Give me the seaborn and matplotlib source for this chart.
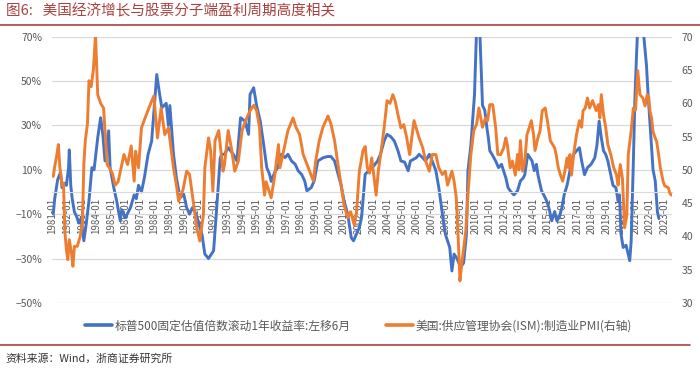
import matplotlib
matplotlib.use("Agg")
import seaborn as sns
import matplotlib.pyplot as plt
from matplotlib.lines import Line2D
from matplotlib.ticker import PercentFormatter

# 标普500 滚动1年收益率（左移6月），时间用小数年表示，数值单位 %
SPX_T = [1981.05, 1981.15, 1981.35, 1981.55, 1981.65, 1981.8, 1981.95, 1982.1, 1982.15, 1982.25,
         1982.35, 1982.5, 1982.65, 1982.8, 1982.95, 1983.15, 1983.3, 1983.5, 1983.7, 1983.85,
         1984.1, 1984.3, 1984.45, 1984.6, 1984.85, 1984.95, 1985.2, 1985.4, 1985.65, 1985.75,
         1986.0, 1986.35, 1986.6, 1986.75, 1986.9, 1987.1, 1987.3, 1987.55, 1987.8, 1988.15,
         1988.35, 1988.5, 1988.8, 1988.95, 1989.05, 1989.3, 1989.5, 1989.75, 1990.0, 1990.2,
         1990.4, 1990.6, 1990.85, 1991.25, 1991.45, 1991.7, 1992.05, 1992.25, 1992.5, 1992.6,
         1992.8, 1993.05, 1993.4, 1993.65, 1993.9, 1994.2, 1994.45, 1994.55, 1994.8, 1995.0,
         1995.25, 1995.45, 1995.7, 1995.9, 1996.0, 1996.25, 1996.45, 1996.7, 1996.95, 1997.15,
         1997.4, 1997.65, 1997.85, 1998.1, 1998.3, 1998.45, 1998.75, 1998.95, 1999.2, 1999.55,
         1999.85, 2000.1, 2000.35, 2000.6, 2000.8, 2001.0, 2001.25, 2001.5, 2001.65, 2001.85,
         2002.05, 2002.2, 2002.45, 2002.7, 2002.95, 2003.3, 2003.5, 2003.75, 2003.95, 2004.2,
         2004.45, 2004.7, 2004.9, 2005.15, 2005.4, 2005.55, 2005.95, 2006.15, 2006.4, 2006.6,
         2006.85, 2007.05, 2007.3, 2007.5, 2007.75, 2007.95, 2008.25, 2008.4, 2008.55, 2008.75,
         2009.0, 2009.2, 2009.4, 2009.5, 2009.7, 2009.95, 2010.1, 2010.3, 2010.5, 2010.65,
         2010.8, 2010.9, 2011.0, 2011.15, 2011.4, 2011.6, 2011.8, 2012.1, 2012.25, 2012.4,
         2012.65, 2012.9, 2013.1, 2013.3, 2013.4, 2013.6, 2013.75, 2013.9, 2014.05, 2014.2,
         2014.3, 2014.55, 2014.7, 2014.9, 2015.05, 2015.25, 2015.45, 2015.6, 2015.75, 2015.95,
         2016.1, 2016.3, 2016.5, 2016.75, 2016.95, 2017.15, 2017.3, 2017.5, 2017.7, 2017.95,
         2018.2, 2018.35, 2018.5, 2018.65, 2018.8, 2018.95, 2019.1, 2019.3, 2019.45, 2019.65,
         2019.8, 2019.9, 2020.0, 2020.15, 2020.35, 2020.6, 2020.7, 2020.85, 2020.95, 2021.05,
         2021.15, 2021.5, 2021.75, 2021.85, 2022.0, 2022.1, 2022.2, 2022.35, 2022.5, 2022.6]
SPX_V = [-10, -3, 5.5, 9, 2, 4, 3, 11, 19, 3,
         -3, -9, -11, -14, -12, -22, -15, -4, 11, 10,
         24.5, 33.5, 26, 14, 27.6, 11, 2, -4, -13, -8,
         -11.6, -7, -1.3, -3, 3, 0, 6.4, 16.8, 23, 53,
         44, 38, 40, 30, 39, 17, 6.4, -2.6, -1, -7,
         -10, -7, -10, -19, -28, -30, -26.5, -8.5, 15, 17,
         17, 20, 17, 14, 33.5, 32, 26, 44, 47, 39,
         32, 23, 11, 7.8, 4.8, 9, 11, 17, 15.5, 17,
         14, 12.5, 9.6, 7.8, 5, 0.5, 2, 5, 14, 15.4,
         16, 16, 14, 7.8, 3, -4, -10, -20.7, -22, -19,
         -16, -11.6, 8, 9.6, 11, 14, 17, 23, 26, 25,
         23, 18.6, 14, 13.5, 9.6, 14, 15.4, 17, 15.4, 14,
         17, 14, 9.6, 2, -10, -19, -25, -35.6, -28, -30,
         -34, -32, -19, 9.6, 21, 44, 75, 75, 39, 37,
         29, 24.5, 18.6, 17, 14, 11, 12.5, 6.4, 2, 0.5,
         -1.3, 0.5, 5, 6.4, 7.8, 17, 15.5, 14, 9.6, 12.5,
         7.8, 0.5, -1.3, -4, -7, -13, -8.8, -13, -11.6, -7,
         -1.3, 3, 9.6, 17, 18.6, 20, 14, 7.8, 11, 12.5,
         15.4, 21, 32, 24.5, 18.6, 17, 14, 7.8, 3, 2,
         -4, -1.3, -19, -25, -24, -31, -22, 14, 41, 59,
         75, 75, 57, 45, 30, 20, 10, 5, -9, -12]

# 美国 ISM 制造业 PMI（右轴）
PMI_T = [1981.05, 1981.15, 1981.3, 1981.4, 1981.5, 1981.65, 1981.75, 1981.85, 1981.95, 1982.05,
         1982.15, 1982.3, 1982.4, 1982.5, 1982.7, 1982.9, 1983.05, 1983.15, 1983.25, 1983.4,
         1983.5, 1983.65, 1983.8, 1983.95, 1984.1, 1984.3, 1984.5, 1984.75, 1984.9, 1985.1,
         1985.3, 1985.5, 1985.9, 1986.15, 1986.4, 1986.6, 1986.7, 1986.9, 1987.1, 1987.35,
         1987.7, 1987.95, 1988.2, 1988.45, 1988.7, 1988.95, 1989.3, 1989.5, 1989.65, 1989.95,
         1990.2, 1990.4, 1990.65, 1990.9, 1991.1, 1991.35, 1991.45, 1991.7, 1991.85, 1992.0,
         1992.15, 1992.4, 1992.7, 1992.8, 1993.05, 1993.3, 1993.5, 1993.75, 1994.0, 1994.25,
         1994.55, 1994.8, 1995.0, 1995.2, 1995.35, 1995.55, 1995.65, 1996.0, 1996.25, 1996.5,
         1996.6, 1996.8, 1997.15, 1997.5, 1997.7, 1997.95, 1998.2, 1998.55, 1998.9, 1999.05,
         1999.3, 1999.55, 1999.9, 2000.1, 2000.35, 2000.55, 2000.8, 2001.0, 2001.25, 2001.45,
         2001.7, 2001.85, 2002.05, 2002.3, 2002.45, 2002.6, 2002.75, 2002.9, 2003.2, 2003.35,
         2003.55, 2003.75, 2003.95, 2004.15, 2004.35, 2004.5, 2004.7, 2004.9, 2005.1, 2005.3,
         2005.5, 2005.65, 2005.8, 2006.0, 2006.15, 2006.4, 2006.6, 2006.85, 2007.05, 2007.3,
         2007.5, 2007.75, 2007.95, 2008.1, 2008.4, 2008.55, 2008.7, 2008.8, 2008.9, 2008.95,
         2009.1, 2009.35, 2009.5, 2009.7, 2009.9, 2010.1, 2010.25, 2010.5, 2010.7, 2010.85,
         2011.0, 2011.2, 2011.4, 2011.55, 2011.75, 2011.95, 2012.1, 2012.2, 2012.4, 2012.55,
         2012.75, 2012.9, 2013.0, 2013.1, 2013.25, 2013.4, 2013.55, 2013.7, 2013.85, 2014.0,
         2014.1, 2014.3, 2014.45, 2014.6, 2014.8, 2014.95, 2015.15, 2015.45, 2015.55, 2015.7,
         2015.85, 2016.0, 2016.15, 2016.3, 2016.4, 2016.5, 2016.6, 2016.75, 2016.95, 2017.15,
         2017.3, 2017.4, 2017.55, 2017.7, 2017.85, 2018.05, 2018.3, 2018.45, 2018.55, 2018.65,
         2018.8, 2018.95, 2019.1, 2019.3, 2019.5, 2019.7, 2019.8, 2019.95, 2020.1, 2020.25,
         2020.4, 2020.5, 2020.7, 2020.85, 2021.0, 2021.15, 2021.3, 2021.5, 2021.65, 2021.8,
         2021.9, 2022.0, 2022.1, 2022.2, 2022.45, 2022.55, 2022.7, 2022.9, 2023.0, 2023.25,
         2023.35, 2023.45]
PMI_V = [49, 50.5, 52.3, 53.8, 50.5, 47.7, 48, 40.7, 38, 36.5,
         39.5, 37.5, 35.5, 38.5, 38.5, 40, 42, 51, 54.4, 57,
         63.4, 62.5, 65, 70.3, 61.3, 60, 59.3, 50.8, 50.3, 49.5,
         47.7, 48.2, 52.3, 50.8, 53.6, 48.3, 52.8, 50.3, 56.3, 57.8,
         59.8, 61.1, 54.8, 59.3, 55.3, 56.3, 50.3, 47.7, 45.3, 47,
         49.8, 49.3, 45.3, 41.3, 39.3, 43.2, 50.3, 54.8, 52.8, 46.8,
         54.4, 55.9, 49.8, 50.8, 55.9, 52.9, 49.8, 51.3, 55.9, 57.4,
         58.9, 59.7, 58.9, 56.4, 50.3, 46.2, 48.2, 45.8, 49.2, 53.8,
         50.3, 52.3, 55.9, 57.8, 56.4, 55.3, 52.3, 50.3, 48.3, 51.3,
         54.4, 56.4, 58.1, 56.9, 54.4, 51.3, 47.7, 44.7, 42.8, 43.7,
         41.7, 43.5, 49.8, 52.9, 53.5, 50.3, 49.5, 51.8, 46.2, 49.8,
         52.9, 56.3, 60.4, 60, 61.3, 60.4, 58.3, 56.3, 56.8, 54.8,
         52.3, 54.8, 57.4, 55.9, 54.8, 53.3, 51.3, 49.8, 52.3, 52.3,
         50.3, 49.3, 49.8, 47.7, 49.8, 48.3, 45.8, 41.3, 36.3, 33.3,
         36.3, 40.8, 46.2, 52.3, 55.9, 56.9, 59.3, 56.4, 57.8, 57.4,
         59.8, 59.8, 56.4, 52.3, 52.3, 53.3, 54.8, 53.8, 50.3, 51.3,
         49.2, 52.3, 50, 54.4, 49.8, 51.3, 55.3, 56.3, 57.4, 55.3,
         52.9, 54.8, 55.9, 58.9, 59.3, 57.4, 54.4, 53.3, 52.3, 50.3,
         49.2, 48.3, 49.8, 51.8, 50.3, 52.3, 49.2, 52.3, 55.3, 57.4,
         56.4, 58.9, 59.3, 60.8, 59.3, 60.4, 58.9, 59.8, 57.8, 61.3,
         58.3, 56.4, 53.8, 52.3, 50.3, 49.2, 47.7, 50.8, 48.7, 41.3,
         43.2, 52.3, 55.9, 59.3, 59, 64.9, 61.3, 60.8, 59.6, 61.3,
         61, 58.7, 57.8, 55.7, 54.2, 52.8, 50.3, 48.2, 47.6, 47.3,
         46.5, 46.2]

TICK_YEARS = list(range(1981, 2024))
TICK_LABELS = [f"{y}-01" for y in TICK_YEARS]
LEFT_TICKS = [-50, -30, -10, 10, 30, 50, 70]
RIGHT_TICKS = [30, 35, 40, 45, 50, 55, 60, 65, 70]

TITLE = "图6:   美国经济增长与股票分子端盈利周期高度相关"
SPX_LABEL = "标普500固定估值倍数滚动1年收益率:左移6月"
PMI_LABEL = "美国:供应管理协会(ISM):制造业PMI(右轴)"
SOURCE = "资料来源：Wind，浙商证券研究所"

BLUE = "#4472C4"
ORANGE = "#ED7D31"
GRAY = "#595959"
GRID = "#d9d9d9"
RED = "#a8423f"

sns.set_style("white")
plt.rcParams["font.family"] = ["Noto Sans CJK SC", "DejaVu Sans"]
plt.rcParams["axes.unicode_minus"] = True

fig = plt.figure(figsize=(7, 3.68), dpi=100)
ax = fig.add_axes([0.074, 0.177, 0.886, 0.723])
ax2 = ax.twinx()

sns.lineplot(x=SPX_T, y=SPX_V, ax=ax, color=BLUE, linewidth=2.1)
sns.lineplot(x=PMI_T, y=PMI_V, ax=ax2, color=ORANGE, linewidth=2.1)

# 横轴放在左轴 0% 处（先移动脊线，否则会重置刻度设置）
for s in ["top", "left", "right"]:
    ax.spines[s].set_visible(False)
for s in ax2.spines.values():
    s.set_visible(False)
ax.spines["bottom"].set_position(("data", 0))
ax.spines["bottom"].set_color(GRID)

ax.set_xlim(1980.95, 2023.5)
ax.set_ylim(-50, 70)
ax2.set_ylim(30, 70)
ax.set_yticks(LEFT_TICKS)
ax2.set_yticks(RIGHT_TICKS)
ax.yaxis.set_major_formatter(PercentFormatter(100, decimals=0))
ax.set_xticks(TICK_YEARS)
ax.set_xticklabels(TICK_LABELS)

ax.yaxis.grid(True, color=GRID, linewidth=0.9)
ax.set_axisbelow(True)

ax.tick_params(axis="y", length=0, labelsize=7.5, labelcolor=GRAY, pad=7)
ax2.tick_params(axis="y", length=0, labelsize=7.5, labelcolor=GRAY, pad=7)
ax.tick_params(axis="x", length=3, color=GRID, labelsize=7, labelcolor=GRAY, pad=1,
               labelrotation=90)
ax.set_xlabel("")
ax.set_ylabel("")
ax2.set_ylabel("")

handles = [Line2D([], [], color=BLUE, lw=2.6), Line2D([], [], color=ORANGE, lw=2.6)]
fig.legend(handles, [SPX_LABEL, PMI_LABEL], loc="center", bbox_to_anchor=(0.512, 0.114),
           ncol=2, frameon=False, fontsize=8.5, labelcolor=GRAY, handlelength=2.3,
           handletextpad=0.2, columnspacing=3.0)

fig.text(0.008, 0.968, TITLE, fontsize=10.5, color=RED, va="center", ha="left")
fig.add_artist(Line2D([0.0, 1.0], [0.933, 0.933], transform=fig.transFigure, color=RED, lw=1.2))
fig.add_artist(Line2D([0.0, 0.985], [0.062, 0.062], transform=fig.transFigure, color=RED, lw=1.2))
fig.text(0.008, 0.025, SOURCE, fontsize=7.8, color="#333333", va="center", ha="left")

fig.savefig("out.png", dpi=100)
plt.close(fig)
